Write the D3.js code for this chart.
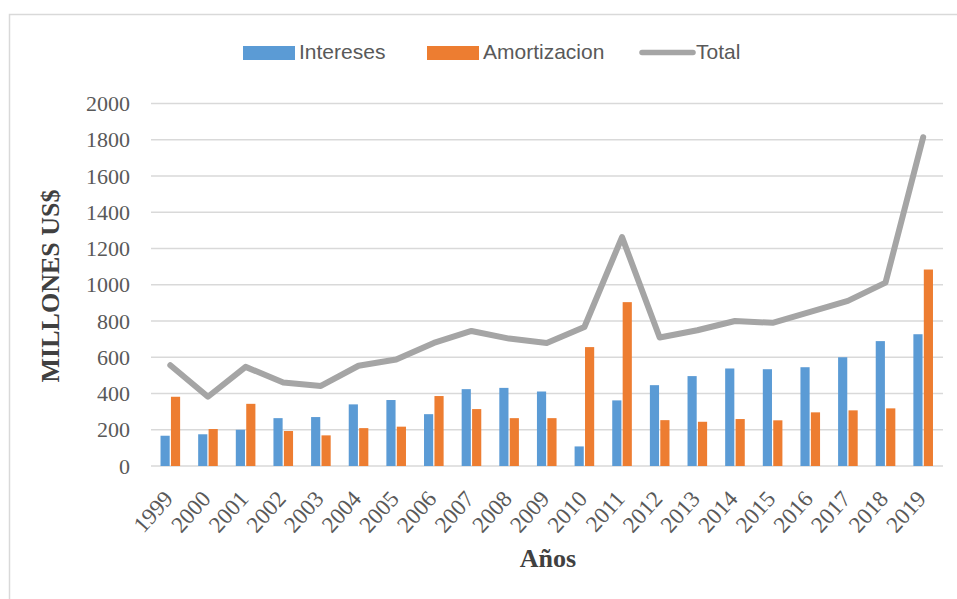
<!DOCTYPE html>
<html><head><meta charset="utf-8">
<script src="https://cdn.jsdelivr.net/npm/d3@7"></script>
<style>body{margin:0;background:#fff}svg{display:block}</style>
</head><body>
<svg id="c" width="957" height="599"></svg>
<script>
const years = ["1999","2000","2001","2002","2003","2004","2005","2006","2007","2008","2009","2010","2011","2012","2013","2014","2015","2016","2017","2018","2019"];
const intereses = [167,175,200,264,270,340,364,286,424,431,411,108,362,446,496,538,534,545,600,689,727];
const amortizacion = [382,204,343,193,169,209,217,386,314,264,264,656,904,253,244,259,252,296,307,318,1084];
const total = [556,382,547,461,442,553,588,679,745,703,679,767,1263,709,749,800,790,850,911,1012,1814];
const yTicks = [0,200,400,600,800,1000,1200,1400,1600,1800,2000];
const seriesNames = ["Intereses","Amortizacion","Total"];
const colors = {"Intereses":"#5B9BD5","Amortizacion":"#ED7D31","Total":"#A5A5A5"};

const svg = d3.select("#c");
svg.append("rect").attr("x",9.5).attr("y",14.5).attr("width",960).attr("height",600)
  .attr("fill","#fff").attr("stroke","#d9d9d9").attr("stroke-width",1.5);

const x = d3.scaleBand().domain(years).range([151.5, 942]);
const xs = d3.scaleBand().domain(["Intereses","Amortizacion"]).range([-9.8, 9.8]).paddingInner(0.12);
const y = d3.scaleLinear().domain([0,2000]).range([466,103.5]);

// gridlines
svg.append("g").selectAll("line").data(yTicks).join("line")
  .attr("x1",151).attr("x2",943).attr("y1",d=>y(d)).attr("y2",d=>y(d))
  .attr("stroke","#d9d9d9").attr("stroke-width",1.6);

// y axis labels
const yAxis = d3.axisLeft(y).tickValues(yTicks).tickSize(0).tickPadding(0).tickFormat(d3.format("d"));
const ya = svg.append("g").attr("transform","translate(130,0)").call(yAxis);
ya.select(".domain").remove();
ya.selectAll("text").attr("font-family","'Liberation Serif','Times New Roman',serif")
  .attr("font-size",22).attr("fill","#595959");

// bars
const g = svg.append("g");
g.selectAll("rect.i").data(intereses).join("rect").attr("class","i")
  .attr("x",(d,i)=>x(years[i])+x.bandwidth()/2+xs("Intereses"))
  .attr("width",xs.bandwidth()).attr("y",d=>y(d)).attr("height",d=>y(0)-y(d))
  .attr("fill",colors.Intereses);
g.selectAll("rect.a").data(amortizacion).join("rect").attr("class","a")
  .attr("x",(d,i)=>x(years[i])+x.bandwidth()/2+xs("Amortizacion"))
  .attr("width",xs.bandwidth()).attr("y",d=>y(d)).attr("height",d=>y(0)-y(d))
  .attr("fill",colors.Amortizacion);

// line
const line = d3.line().x((d,i)=>x(years[i])+x.bandwidth()/2).y(d=>y(d));
svg.append("path").datum(total).attr("d",line).attr("fill","none")
  .attr("stroke",colors.Total).attr("stroke-width",6).attr("stroke-linejoin","round").attr("stroke-linecap","round");

// x axis labels
const xAxis = d3.axisBottom(x).tickSize(0).tickPadding(0);
const xa = svg.append("g").attr("transform","translate(0,478)").call(xAxis);
xa.select(".domain").remove();
xa.selectAll("text").attr("font-family","'Liberation Serif','Times New Roman',serif")
  .attr("font-size",23).attr("fill","#595959")
  .attr("text-anchor","end").attr("dy","0.7em")
  .attr("transform","translate(-8,11) rotate(-48)");

// axis titles
svg.append("text").attr("transform","translate(59,286) rotate(-90)")
  .attr("text-anchor","middle").attr("font-family","'Liberation Serif','Times New Roman',serif")
  .attr("font-weight","bold").attr("font-size",26).attr("fill","#404040").text("MILLONES US$");
svg.append("text").attr("x",548).attr("y",567)
  .attr("text-anchor","middle").attr("font-family","'Liberation Serif','Times New Roman',serif")
  .attr("font-weight","bold").attr("font-size",26).attr("fill","#404040").text("Años");

// legend
const legendX = [243,427,640];
const lg = svg.append("g");
seriesNames.forEach((s,i)=>{
  const gx = legendX[i];
  if(s==="Total"){
    lg.append("line").attr("x1",gx+2).attr("x2",gx+53).attr("y1",52.5).attr("y2",52.5)
      .attr("stroke",colors[s]).attr("stroke-width",5.5).attr("stroke-linecap","round");
  } else {
    lg.append("rect").attr("x",gx).attr("y",46).attr("width",52).attr("height",14).attr("fill",colors[s]);
  }
  lg.append("text").attr("x",gx+56).attr("y",59).attr("font-family","'Liberation Sans',Arial,sans-serif")
    .attr("font-size",21).attr("fill","#595959").text(s);
});
</script>
</body></html>
